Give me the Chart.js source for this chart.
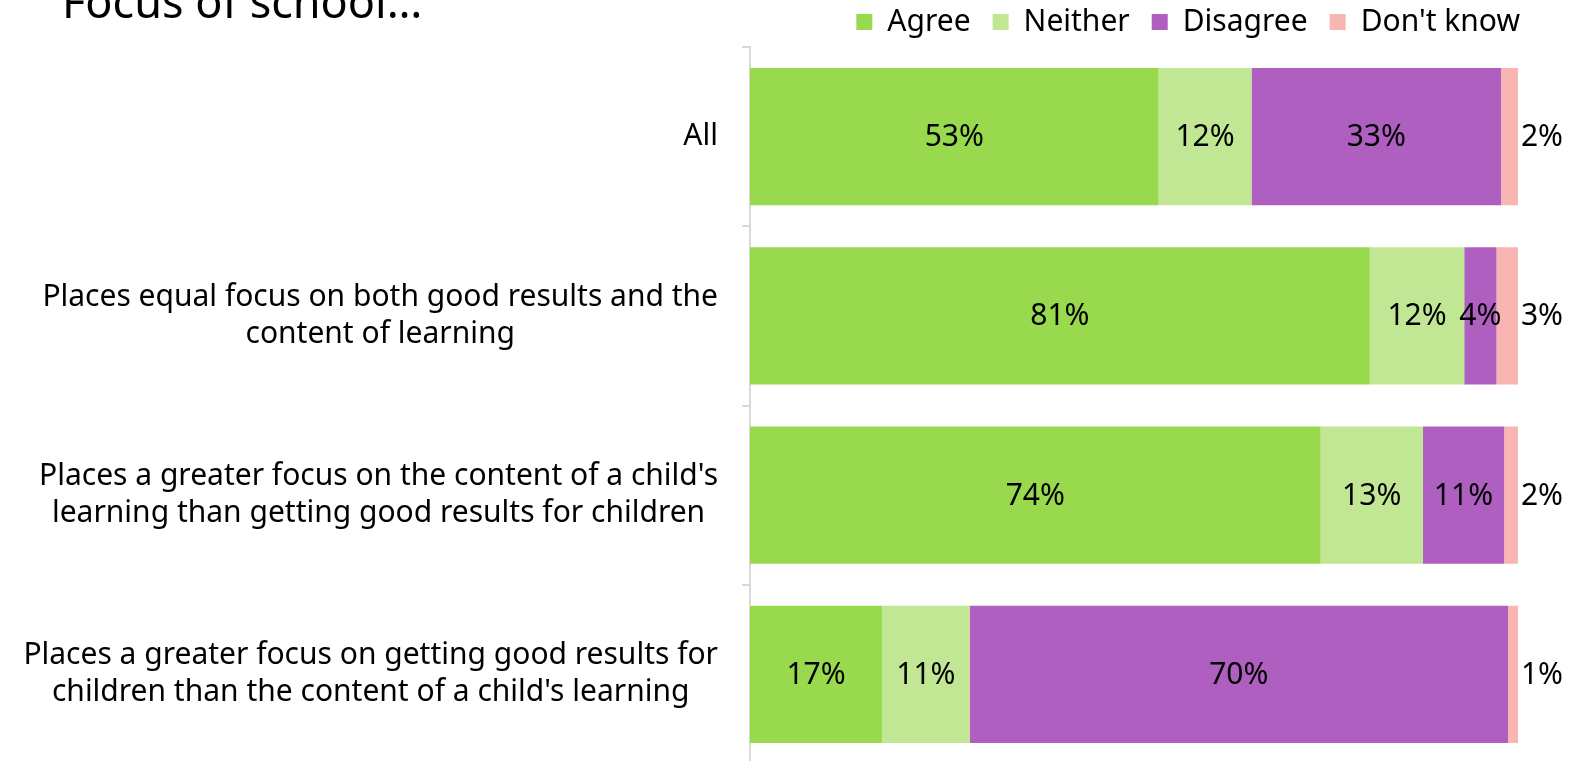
<!DOCTYPE html>
<html>
<head>
<meta charset="utf-8">
<script src="https://cdn.jsdelivr.net/npm/chart.js@4/dist/chart.umd.min.js"></script>
<style>
  html, body { margin: 0; padding: 0; background: #fff; overflow: hidden; }
  #wrap { position: relative; width: 1570px; height: 764px; }
</style>
</head>
<body>
<div id="wrap"><canvas id="chart"></canvas></div>
<script>
// survey rows (top to bottom), each label split into its printed lines
const categories = [
  ["All"],
  ["Places equal focus on both good results and the", "content of learning"],
  ["Places a greater focus on the content of a child's", "learning than getting good results for children"],
  ["Places a greater focus on getting good results for", "children than the content of a child's learning"]
];

// shares in %
const agree    = [53.2, 80.7, 74.3, 17.2];
const neither  = [12.1, 12.3, 13.3, 11.4];
const disagree = [32.5,  4.2, 10.6, 70.1];
const dontKnow = [ 2.2,  2.8,  1.8,  1.3];

const seriesNames = ["Agree", "Neither", "Disagree", "Don't know"];
const colors = ["#98d94e", "#c1e795", "#ae5fc0", "#f9b5b1"];
const title = "Focus of school…";

const FONT = "'Noto Sans', 'Open Sans', sans-serif";

// push the legend out to the right edge of the bars' labels
const shiftLegend = {
  id: "shiftLegend",
  afterLayout(chart) {
    const lg = chart.legend;
    if (!lg) return;
    lg.left += 24;
    lg.right += 24;
  }
};

const drawExtras = {
  id: "drawExtras",
  afterDatasetsDraw(chart) {
    const ctx = chart.ctx;
    const yScale = chart.scales.y;
    const area = chart.chartArea;
    ctx.save();

    // value labels
    ctx.fillStyle = "#000";
    ctx.font = "30px " + FONT;
    ctx.textBaseline = "middle";
    ctx.textAlign = "center";
    chart.data.datasets.forEach((ds, di) => {
      const meta = chart.getDatasetMeta(di);
      meta.data.forEach((bar, i) => {
        const txt = Math.round(ds.data[i]) + "%";
        if (di === 3) {
          ctx.fillText(txt, area.right + 24, bar.y + 1);
        } else {
          ctx.fillText(txt, (bar.base + bar.x) / 2, bar.y + 1);
        }
      });
    });

    // category labels, each block right aligned, lines centred
    ctx.font = "30px " + FONT;
    const right = 718;
    const lineH = 37;
    categories.forEach((lines, i) => {
      const cy = yScale.getPixelForValue(i);
      const w = Math.max(...lines.map(l => ctx.measureText(l).width));
      const cx = right - w / 2;
      const y0 = cy - (lines.length - 1) * lineH / 2;
      lines.forEach((l, k) => ctx.fillText(l, cx, y0 + k * lineH));
    });

    // title, cut off by the top edge like the original
    ctx.textAlign = "left";
    ctx.textBaseline = "alphabetic";
    ctx.font = "45px " + FONT;
    ctx.fillText(title, 62, 18);
    ctx.restore();
  }
};

const allData = [agree, neither, disagree, dontKnow];

new Chart(document.getElementById("chart"), {
  type: "bar",
  data: {
    labels: categories.map(c => c.join(" ")),
    datasets: seriesNames.map((name, i) => ({
      label: name,
      data: allData[i],
      backgroundColor: colors[i],
      borderWidth: 0,
      categoryPercentage: 1,
      barPercentage: 0.765
    }))
  },
  options: {
    indexAxis: "y",
    responsive: true,
    maintainAspectRatio: false,
    animation: false,
    layout: { padding: { top: -15, right: 52, left: 0, bottom: 0 } },
    plugins: {
      legend: {
        position: "top",
        align: "end",
        labels: {
          color: "#000",
          font: { family: FONT, size: 30 },
          boxWidth: 16,
          boxHeight: 16,
          padding: 22
        }
      },
      tooltip: { enabled: false }
    },
    scales: {
      x: {
        stacked: true,
        min: 0,
        max: 100,
        display: false
      },
      y: {
        stacked: true,
        afterFit: s => { s.width = 750; },
        ticks: { display: false },
        border: { color: "#d9d9d9", width: 2 },
        grid: {
          offset: true,
          drawOnChartArea: false,
          drawTicks: true,
          tickLength: 8,
          color: "#d9d9d9",
          lineWidth: 2
        }
      }
    }
  },
  plugins: [shiftLegend, drawExtras]
});
</script>
</body>
</html>
